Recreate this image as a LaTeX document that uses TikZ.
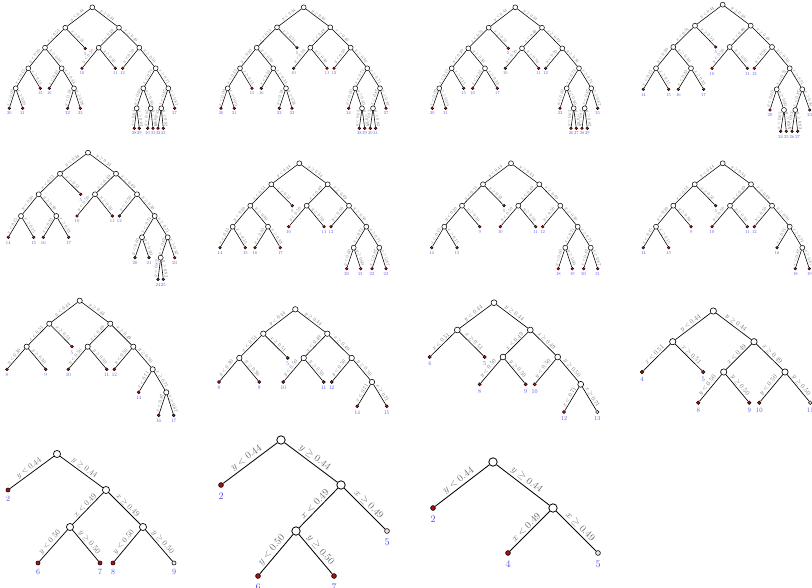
\documentclass[tikz,border=0pt]{standalone}
\definecolor{leafred}{rgb}{0.68,0.06,0.06}
\definecolor{leaflight}{rgb}{0.97,0.90,0.90}
\definecolor{leafblue}{rgb}{0.30,0.30,0.95}
\definecolor{labgray}{rgb}{0.42,0.42,0.42}
\tikzset{
  innode/.style={circle, draw, fill=white, inner sep=0pt, minimum size={2*(1+3.2*\sc)}, line width={0.3+0.5*\sc}},
  leafnode/.style={circle, draw, fill=leafred, inner sep=0pt, minimum size={2*(0.6+1.8*\sc)}, line width={0.2+0.4*\sc}},
  lightleaf/.style={fill=leaflight},
  edgeline/.style={line width={0.3+0.55*\sc}},
  elab/.style={midway, sloped, above, scale=\sc, text=labgray, inner sep=1.5pt, font=\normalsize},
  leaflab/.style={scale=\sc, text=leafblue, inner sep=1pt, font=\normalsize}
}
\newcommand\inn[3]{\node[innode] (#1) at (#2,#3) {};}
\newcommand\lf[4]{\node[leafnode] (#1) at (#2,#3) {};
  \node[leaflab, anchor=north] (#1t) at ([yshift={-3.5*\sc}]#1.south) {#4};}
\newcommand\lfl[4]{\node[leafnode, lightleaf] (#1) at (#2,#3) {};
  \node[leaflab, anchor=north] (#1t) at ([yshift={-3.5*\sc}]#1.south) {#4};}
\newcommand\ch[5]{\draw[edgeline] (#1) -- node[elab]{$#4<#5$} (#2);
  \draw[edgeline] (#1) -- node[elab]{$#4\geq#5$} (#3);}
\begin{document}
\begin{tikzpicture}[x=1pt,y=-1pt]
\useasboundingbox (0,0) rectangle (812,588);
\fill[white] (0,0) rectangle (812,588);
% ---------------- tree a
\begin{scope}\def\sc{0.445}
\inn{aR}{92.3}{7.3}\inn{aA}{65.3}{27.7}\inn{aB}{119}{27.7}
\inn{aC}{45}{47.7}\lf{a5}{85.3}{48.5}{5}\inn{aD}{98.7}{47.7}\inn{aE}{139.3}{47.7}
\inn{aF}{28.3}{68.3}\inn{aG}{61.7}{68.3}\lf{a10}{82}{68.3}{10}\lf{a11}{115.3}{68.3}{11}\lf{a12}{122.7}{68.3}{12}\inn{aH}{155.7}{68.3}
\inn{aI}{15.7}{88.3}\lf{a15}{40.3}{88.3}{15}\lf{a16}{49.3}{88.3}{16}\inn{aJ}{74}{88.3}\inn{aK}{143.3}{88.3}\inn{aL}{168.3}{88.3}
\lf{a20}{9.3}{108.3}{20}\lf{a21}{22.7}{108.3}{21}\lf{a22}{67.7}{108.3}{22}\lf{a23}{80.3}{108.3}{23}
\inn{aM}{136.7}{108.3}\inn{aN}{150.7}{108.3}\inn{aO}{161.3}{108.3}\lf{a27}{174.7}{108.3}{27}
\lf{a28}{134.3}{128.3}{28}\lf{a29}{139.3}{128.3}{29}\lf{a30}{147.7}{128.3}{30}\lf{a31}{153}{128.3}{31}\lf{a32}{158}{128.3}{32}\lf{a33}{163.3}{128.3}{33}
\ch{aR}{aA}{aB}{y}{0.44}\ch{aA}{aC}{a5}{x}{0.51}\ch{aB}{aD}{aE}{x}{0.49}
\ch{aC}{aF}{aG}{y}{0.30}\ch{aD}{a10}{a11}{y}{0.50}\ch{aE}{a12}{aH}{y}{0.50}
\ch{aF}{aI}{a15}{x}{0.15}\ch{aG}{a16}{aJ}{x}{0.33}\ch{aH}{aK}{aL}{x}{0.71}
\ch{aI}{a20}{a21}{x}{0.09}\ch{aJ}{a22}{a23}{y}{0.38}\ch{aK}{aM}{aN}{y}{0.60}\ch{aL}{aO}{a27}{x}{0.87}
\ch{aM}{a28}{a29}{x}{0.64}\ch{aN}{a30}{a31}{y}{0.65}\ch{aO}{a32}{a33}{y}{0.82}
\end{scope}
% ---------------- tree b
\begin{scope}\def\sc{0.445}
\inn{bR}{303.7}{7.3}\inn{bA}{277}{27.3}\inn{bB}{330.3}{27.3}
\inn{bC}{256.7}{47.7}\lf{b5}{297}{47.7}{5}\inn{bD}{310.3}{47.7}\inn{bE}{350.7}{47.7}
\inn{bF}{240}{68.3}\inn{bG}{273.3}{68.3}\lf{b10}{293.7}{68.3}{10}\lf{b11}{327}{68.3}{11}\lf{b12}{334}{68.3}{12}\inn{bH}{367.3}{68.3}
\inn{bI}{227.7}{88.3}\lf{b15}{252}{88.3}{15}\lf{b16}{261.3}{88.3}{16}\inn{bJ}{286}{88.3}\inn{bK}{355.3}{88.3}\inn{bL}{380}{88.3}
\lf{b20}{221}{108.3}{20}\lf{b21}{234.3}{108.3}{21}\lf{b22}{279.3}{108.3}{22}\lf{b23}{292}{108.3}{23}
\lf{b24}{348.7}{108.3}{24}\inn{bN}{362}{108.3}\inn{bO}{373}{108.3}\lf{b27}{386}{108.3}{27}
\lf{b28}{359.3}{128.3}{28}\lf{b29}{364.7}{128.3}{29}\lf{b30}{370.3}{128.3}{30}\lf{b31}{375.7}{128.3}{31}
\ch{bR}{bA}{bB}{y}{0.44}\ch{bA}{bC}{b5}{x}{0.51}\ch{bB}{bD}{bE}{x}{0.49}
\ch{bC}{bF}{bG}{y}{0.30}\ch{bD}{b10}{b11}{y}{0.50}\ch{bE}{b12}{bH}{y}{0.50}
\ch{bF}{bI}{b15}{x}{0.15}\ch{bG}{b16}{bJ}{x}{0.33}\ch{bH}{bK}{bL}{x}{0.71}
\ch{bI}{b20}{b21}{x}{0.09}\ch{bJ}{b22}{b23}{y}{0.38}\ch{bK}{b24}{bN}{y}{0.60}\ch{bL}{bO}{b27}{x}{0.87}
\ch{bN}{b28}{b29}{y}{0.65}\ch{bO}{b30}{b31}{y}{0.82}
\end{scope}
% ---------------- tree c
\begin{scope}\def\sc{0.445}
\inn{cR}{515.3}{7.3}\inn{cA}{488.7}{27.7}\inn{cB}{542}{27.7}
\inn{cC}{468.3}{48.3}\lf{c5}{508.3}{48.3}{5}\inn{cD}{522}{48.3}\inn{cE}{562.3}{48.3}
\inn{cF}{451.7}{68.3}\inn{cG}{485}{68.3}\lf{c10}{505.3}{68.3}{10}\lf{c11}{538.7}{68.3}{11}\lf{c12}{545.7}{68.3}{12}\inn{cH}{579}{68.3}
\inn{cI}{439.3}{88.3}\lf{c15}{463.7}{88.3}{15}\lf{c16}{472.7}{88.3}{16}\lf{c17}{497.3}{88.3}{17}\inn{cK}{566.7}{88.3}\inn{cL}{591.3}{88.3}
\lf{c20}{432.3}{108.3}{20}\lf{c21}{445.7}{108.3}{21}\lf{c22}{560}{108.3}{22}\inn{cN}{573.7}{108.3}\inn{cO}{584.7}{108.3}\lf{c25}{597.7}{108.3}{25}
\lf{c26}{571}{128.3}{26}\lf{c27}{576.3}{128.3}{27}\lf{c28}{582}{128.3}{28}\lf{c29}{587.3}{128.3}{29}
\ch{cR}{cA}{cB}{y}{0.44}\ch{cA}{cC}{c5}{x}{0.51}\ch{cB}{cD}{cE}{x}{0.49}
\ch{cC}{cF}{cG}{y}{0.30}\ch{cD}{c10}{c11}{y}{0.50}\ch{cE}{c12}{cH}{y}{0.50}
\ch{cF}{cI}{c15}{x}{0.15}\ch{cG}{c16}{c17}{x}{0.33}\ch{cH}{cK}{cL}{x}{0.71}
\ch{cI}{c20}{c21}{x}{0.09}\ch{cK}{c22}{cN}{y}{0.60}\ch{cL}{cO}{c25}{x}{0.87}
\ch{cN}{c26}{c27}{y}{0.65}\ch{cO}{c28}{c29}{y}{0.82}
\end{scope}
% ---------------- tree d
\begin{scope}\def\sc{0.46}
\inn{dR}{722.7}{4.7}\inn{dA}{695}{25.7}\inn{dB}{750.7}{25.7}
\inn{dC}{673.3}{47}\lf{d5}{715.7}{47}{5}\inn{dD}{729.7}{47}\inn{dE}{772}{47}
\inn{dF}{656}{68.3}\inn{dG}{691}{68.3}\lf{d10}{712}{68.3}{10}\lf{d11}{747.3}{68.3}{11}\lf{d12}{754.3}{68.3}{12}\inn{dH}{789.7}{68.3}
\lf{d14}{643.3}{89.3}{14}\lf{d15}{668.7}{89.3}{15}\lf{d16}{678.3}{89.3}{16}\lf{d17}{703.7}{89.3}{17}\inn{dK}{776.7}{89.3}\inn{dL}{802.3}{89.3}
\lf{d20}{770}{110}{20}\inn{dN}{784}{110}\inn{dO}{795.3}{110}\lf{d23}{809.7}{110}{23}
\lf{d24}{780.7}{131.3}{24}\lf{d25}{786.3}{131.3}{25}\lf{d26}{792}{131.3}{26}\lf{d27}{797.7}{131.3}{27}
\ch{dR}{dA}{dB}{y}{0.44}\ch{dA}{dC}{d5}{x}{0.51}\ch{dB}{dD}{dE}{x}{0.49}
\ch{dC}{dF}{dG}{y}{0.30}\ch{dD}{d10}{d11}{y}{0.50}\ch{dE}{d12}{dH}{y}{0.50}
\ch{dF}{d14}{d15}{x}{0.15}\ch{dG}{d16}{d17}{x}{0.33}\ch{dH}{dK}{dL}{x}{0.71}
\ch{dK}{d20}{dN}{y}{0.60}\ch{dL}{dO}{d23}{x}{0.87}
\ch{dN}{d24}{d25}{y}{0.65}\ch{dO}{d26}{d27}{y}{0.82}
\end{scope}
% ---------------- tree e
\begin{scope}\def\sc{0.47}
\inn{eR}{88}{152.7}\inn{eA}{60}{173.7}\inn{eB}{116}{173.7}
\inn{eC}{38.7}{194.3}\lf{e5}{80.7}{194.3}{5}\inn{eD}{95}{194.3}\inn{eE}{137}{194.3}
\inn{eF}{21}{216}\inn{eG}{56.3}{216}\lf{e10}{77}{216}{10}\lf{e11}{112.3}{216}{11}\lf{e12}{119.3}{216}{12}\inn{eH}{154.7}{216}
\lf{e14}{8.3}{237.3}{14}\lf{e15}{33.7}{237.3}{15}\lf{e16}{43.3}{237.3}{16}\lf{e17}{68.7}{237.3}{17}\inn{eK}{142}{237.3}\inn{eL}{167.7}{237.3}
\lf{e20}{135}{257.7}{20}\lf{e21}{149}{257.7}{21}\inn{eO}{160.7}{257.7}\lf{e23}{174.7}{257.7}{23}
\lf{e24}{158}{279.3}{24}\lf{e25}{163.3}{279.3}{25}
\ch{eR}{eA}{eB}{y}{0.44}\ch{eA}{eC}{e5}{x}{0.51}\ch{eB}{eD}{eE}{x}{0.49}
\ch{eC}{eF}{eG}{y}{0.30}\ch{eD}{e10}{e11}{y}{0.50}\ch{eE}{e12}{eH}{y}{0.50}
\ch{eF}{e14}{e15}{x}{0.15}\ch{eG}{e16}{e17}{x}{0.33}\ch{eH}{eK}{eL}{x}{0.71}
\ch{eK}{e20}{e21}{y}{0.60}\ch{eL}{eO}{e23}{x}{0.87}\ch{eO}{e24}{e25}{y}{0.82}
\end{scope}
% ---------------- tree f
\begin{scope}\def\sc{0.46}
\inn{fR}{299.3}{163.3}\inn{fA}{271.3}{184.3}\inn{fB}{327.7}{184.3}
\inn{fC}{250.3}{205.7}\lf{f5}{292.3}{205.7}{5}\inn{fD}{306.7}{205.7}\inn{fE}{349}{205.7}
\inn{fF}{232.7}{226.7}\inn{fG}{268}{226.7}\lf{f10}{288.7}{226.7}{10}\lf{f11}{324}{226.7}{11}\lf{f12}{331}{226.7}{12}\inn{fH}{366.3}{226.7}
\lf{f14}{220}{247.7}{14}\lf{f15}{245.3}{247.7}{15}\lf{f16}{255}{247.7}{16}\lf{f17}{280.3}{247.7}{17}\inn{fK}{353.7}{247.7}\inn{fL}{379.3}{247.7}
\lf{f20}{346.7}{268.7}{20}\lf{f21}{360.7}{268.7}{21}\lf{f22}{372}{268.7}{22}\lf{f23}{386}{268.7}{23}
\ch{fR}{fA}{fB}{y}{0.44}\ch{fA}{fC}{f5}{x}{0.51}\ch{fB}{fD}{fE}{x}{0.49}
\ch{fC}{fF}{fG}{y}{0.30}\ch{fD}{f10}{f11}{y}{0.50}\ch{fE}{f12}{fH}{y}{0.50}
\ch{fF}{f14}{f15}{x}{0.15}\ch{fG}{f16}{f17}{x}{0.33}\ch{fH}{fK}{fL}{x}{0.71}
\ch{fK}{f20}{f21}{y}{0.60}\ch{fL}{f22}{f23}{x}{0.87}
\end{scope}
% ---------------- tree g
\begin{scope}\def\sc{0.46}
\inn{gR}{511}{163.3}\inn{gA}{483}{184.3}\inn{gB}{539.3}{184.3}
\inn{gC}{462}{205.7}\lf{g5}{504}{205.7}{5}\inn{gD}{518.3}{205.7}\inn{gE}{560.3}{205.7}
\inn{gF}{444.3}{226.7}\lf{g9}{479.7}{226.7}{9}\lf{g10}{500.3}{226.7}{10}\lf{g11}{535.7}{226.7}{11}\lf{g12}{542.7}{226.7}{12}\inn{gH}{577.7}{226.7}
\lf{g14}{431.7}{247.7}{14}\lf{g15}{457}{247.7}{15}\inn{gK}{565.3}{247.7}\inn{gL}{590.7}{247.7}
\lf{g18}{558.3}{268.7}{18}\lf{g19}{572.3}{268.7}{19}\lf{g20}{583.7}{268.7}{20}\lf{g21}{597.7}{268.7}{21}
\ch{gR}{gA}{gB}{y}{0.44}\ch{gA}{gC}{g5}{x}{0.51}\ch{gB}{gD}{gE}{x}{0.49}
\ch{gC}{gF}{g9}{y}{0.30}\ch{gD}{g10}{g11}{y}{0.50}\ch{gE}{g12}{gH}{y}{0.50}
\ch{gF}{g14}{g15}{x}{0.15}\ch{gH}{gK}{gL}{x}{0.71}
\ch{gK}{g18}{g19}{y}{0.60}\ch{gL}{g20}{g21}{x}{0.87}
\end{scope}
% ---------------- tree h
\begin{scope}\def\sc{0.46}
\inn{hR}{722.7}{163.3}\inn{hA}{694.7}{184.3}\inn{hB}{751}{184.3}
\inn{hC}{673.3}{205.7}\lf{h5}{715.7}{205.7}{5}\inn{hD}{730}{205.7}\inn{hE}{772}{205.7}
\inn{hF}{656}{226.7}\lf{h9}{691}{226.7}{9}\lf{h10}{712}{226.7}{10}\lf{h11}{747.3}{226.7}{11}\lf{h12}{754.3}{226.7}{12}\inn{hH}{789.7}{226.7}
\lf{h14}{643.3}{247.7}{14}\lf{h15}{668.7}{247.7}{15}\lf{h16}{777}{247.7}{16}\inn{hL}{802.3}{247.7}
\lf{h18}{795.3}{268.7}{18}\lf{h19}{809.3}{268.7}{19}
\ch{hR}{hA}{hB}{y}{0.44}\ch{hA}{hC}{h5}{x}{0.51}\ch{hB}{hD}{hE}{x}{0.49}
\ch{hC}{hF}{h9}{y}{0.30}\ch{hD}{h10}{h11}{y}{0.50}\ch{hE}{h12}{hH}{y}{0.50}
\ch{hF}{h14}{h15}{x}{0.15}\ch{hH}{h16}{hL}{x}{0.71}\ch{hL}{h18}{h19}{x}{0.87}
\end{scope}
% ---------------- tree i
\begin{scope}\def\sc{0.505}
\inn{iR}{79.7}{300.7}\inn{iA}{49.3}{323.7}\inn{iB}{110.3}{323.7}
\inn{iC}{26.7}{346.7}\lf{i5}{72}{346.7}{5}\inn{iD}{87.7}{346.7}\inn{iE}{133.3}{346.7}
\lf{i8}{7}{369.3}{8}\lf{i9}{45.7}{369.3}{9}\lf{i10}{68.3}{369.3}{10}\lf{i11}{106.7}{369.3}{11}\lf{i12}{114.3}{369.3}{12}\inn{iH}{152.7}{369.3}
\lf{i14}{138.7}{392.3}{14}\inn{iL}{166.3}{392.3}
\lf{i16}{158.7}{415.3}{16}\lf{i17}{173.7}{415.3}{17}
\ch{iR}{iA}{iB}{y}{0.44}\ch{iA}{iC}{i5}{x}{0.51}\ch{iB}{iD}{iE}{x}{0.49}
\ch{iC}{i8}{i9}{y}{0.30}\ch{iD}{i10}{i11}{y}{0.50}\ch{iE}{i12}{iH}{y}{0.50}
\ch{iH}{i14}{iL}{x}{0.71}\ch{iL}{i16}{i17}{x}{0.87}
\end{scope}
% ---------------- tree j
\begin{scope}\def\sc{0.535}
\inn{jR}{295.3}{309.3}\inn{jA}{263.3}{333.7}\inn{jB}{327.3}{333.7}
\inn{jC}{239.3}{358}\lf{j5}{287.7}{358}{5}\inn{jD}{303.7}{358}\inn{jE}{351.7}{358}
\lf{j8}{219}{382}{8}\lf{j9}{259.3}{382}{9}\lf{j10}{283.3}{382}{10}\lf{j11}{323.7}{382}{11}\lf{j12}{331.7}{382}{12}\inn{jH}{372}{382}
\lf{j14}{357.3}{406.3}{14}\lf{j15}{386.7}{406.3}{15}
\ch{jR}{jA}{jB}{y}{0.44}\ch{jA}{jC}{j5}{x}{0.51}\ch{jB}{jD}{jE}{x}{0.49}
\ch{jC}{j8}{j9}{y}{0.30}\ch{jD}{j10}{j11}{y}{0.50}\ch{jE}{j12}{jH}{y}{0.50}
\ch{jH}{j14}{j15}{x}{0.71}
\end{scope}
% ---------------- tree k
\begin{scope}\def\sc{0.60}
\inn{kR}{494}{302.7}\inn{kA}{457.3}{330}\inn{kB}{530.3}{330}
\lf{k4}{429.7}{357}{4}\lf{k5}{484.7}{357}{5}\inn{kD}{503}{357}\inn{kE}{557.7}{357}
\lf{k8}{479.7}{384.3}{8}\lf{k9}{525.7}{384.3}{9}\lf{k10}{534.7}{384.3}{10}\inn{kH}{580.7}{384.3}
\lf{k12}{564}{412}{12}\lfl{k13}{597.3}{412}{13}
\ch{kR}{kA}{kB}{y}{0.44}\ch{kA}{k4}{k5}{x}{0.51}\ch{kB}{kD}{kE}{x}{0.49}
\ch{kD}{k8}{k9}{y}{0.50}\ch{kE}{k10}{kH}{y}{0.50}\ch{kH}{k12}{k13}{x}{0.71}
\end{scope}
% ---------------- tree l
\begin{scope}\def\sc{0.67}
\inn{lR}{713.3}{311}\inn{lA}{672.7}{341.7}\inn{lB}{754}{341.7}
\lf{l4}{642}{372}{4}\lf{l5}{703.3}{372}{5}\inn{lD}{723.7}{372}\inn{lE}{785}{372}
\lf{l8}{698.3}{402.7}{8}\lf{l9}{749.3}{402.7}{9}\lf{l10}{759.3}{402.7}{10}\lfl{l11}{810.3}{402.7}{11}
\ch{lR}{lA}{lB}{y}{0.44}\ch{lA}{l4}{l5}{x}{0.51}\ch{lB}{lD}{lE}{x}{0.49}
\ch{lD}{l8}{l9}{y}{0.50}\ch{lE}{l10}{l11}{y}{0.50}
\end{scope}
% ---------------- tree m
\begin{scope}\def\sc{0.80}
\inn{mR}{57}{454}\lf{m2}{8}{490}{2}\inn{mB}{106}{490}
\inn{mD}{70}{527}\inn{mE}{143}{527}
\lf{m6}{38}{563}{6}\lf{m7}{100}{563}{7}\lf{m8}{113}{563}{8}\lfl{m9}{174}{563}{9}
\ch{mR}{m2}{mB}{y}{0.44}\ch{mB}{mD}{mE}{x}{0.49}
\ch{mD}{m6}{m7}{y}{0.50}\ch{mE}{m8}{m9}{y}{0.50}
\end{scope}
% ---------------- tree n
\begin{scope}\def\sc{1}
\inn{nR}{281}{440}\lf{n2}{221}{485}{2}\inn{nB}{341}{485}
\inn{nD}{296}{531}\lfl{n5}{387}{531}{5}
\lf{n6}{258}{576}{6}\lf{n7}{334}{576}{7}
\ch{nR}{n2}{nB}{y}{0.44}\ch{nB}{nD}{n5}{x}{0.49}\ch{nD}{n6}{n7}{y}{0.50}
\end{scope}
% ---------------- tree o
\begin{scope}\def\sc{1}
\inn{oR}{493}{462}\lf{o2}{433}{508}{2}\inn{oB}{553}{508}
\lf{o4}{508}{553}{4}\lfl{o5}{598}{553}{5}
\ch{oR}{o2}{oB}{y}{0.44}\ch{oB}{o4}{o5}{x}{0.49}
\end{scope}
\end{tikzpicture}
\end{document}
